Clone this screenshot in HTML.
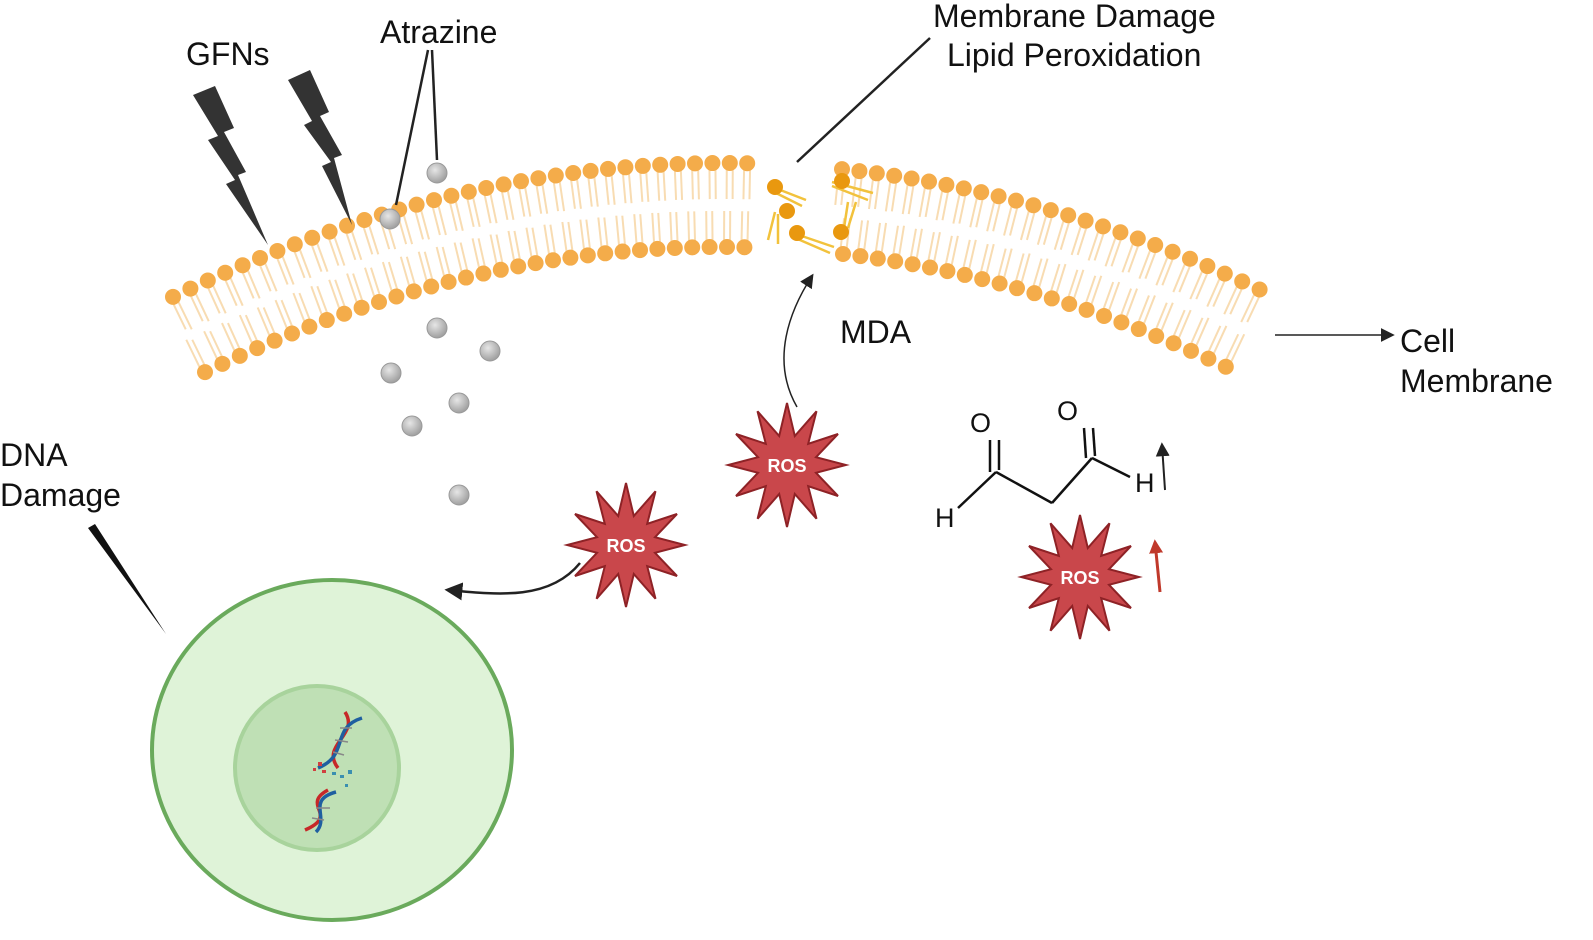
<!DOCTYPE html>
<html><head><meta charset="utf-8"><style>
html,body{margin:0;padding:0;background:#fff;}
svg{display:block;}
text{font-family:"Liberation Sans",sans-serif;}
</style></head><body>
<svg id="s" width="1593" height="940" viewBox="0 0 1593 940" xmlns="http://www.w3.org/2000/svg">
<defs>
<radialGradient id="g" cx="0.4" cy="0.35" r="0.7"><stop offset="0" stop-color="#e6e6e6"/><stop offset="1" stop-color="#9a9a9a"/></radialGradient>
<marker id="ah2" viewBox="0 0 10 10" refX="8" refY="5" markerWidth="14" markerHeight="14" markerUnits="userSpaceOnUse" orient="auto"><path d="M0,0 L10,5 L0,10 z" fill="#222"/></marker>
<marker id="ah3" viewBox="0 0 10 10" refX="8" refY="5" markerWidth="18" markerHeight="18" markerUnits="userSpaceOnUse" orient="auto"><path d="M0,0 L10,5 L0,10 z" fill="#222"/></marker>
<marker id="ahr" viewBox="0 0 10 10" refX="8" refY="5" markerWidth="14" markerHeight="14" markerUnits="userSpaceOnUse" orient="auto"><path d="M0,0 L10,5 L0,10 z" fill="#c0392b"/></marker>
</defs>
<g id="tails" stroke="#f8dcb2" stroke-width="2" fill="none"></g>
<g id="beads" fill="#f4ac4a"></g>
<g stroke="#f2c23c" stroke-width="2.5" fill="none">
<line x1="770" y1="186" x2="806" y2="200"/><line x1="770" y1="190" x2="802" y2="206"/>
<line x1="775" y1="212" x2="768" y2="240"/><line x1="778" y1="214" x2="778" y2="244"/>
<line x1="793" y1="233" x2="834" y2="247"/><line x1="793" y1="237" x2="830" y2="253"/>
<line x1="832" y1="182" x2="873" y2="193"/><line x1="832" y1="186" x2="868" y2="200"/>
<line x1="848" y1="202" x2="844" y2="228"/><line x1="856" y1="202" x2="848" y2="228"/>
</g>
<g fill="#e9980f"><circle cx="775" cy="187" r="8"/><circle cx="787" cy="211" r="8"/><circle cx="797" cy="233" r="8"/><circle cx="842" cy="181" r="8"/><circle cx="841" cy="232" r="8"/></g>
<g fill="url(#g)" stroke="#999" stroke-width="1">
<circle cx="437" cy="173" r="10"/><circle cx="390" cy="219" r="10"/><circle cx="437" cy="328" r="10"/><circle cx="490" cy="351" r="10"/><circle cx="391" cy="373" r="10"/><circle cx="459" cy="403" r="10"/><circle cx="412" cy="426" r="10"/><circle cx="459" cy="495" r="10"/>
</g>
<path d="M193,95 L215,86 L234,128 L224,132 L246,172 L238,175 L268,245 L226,184 L235,180 L208,140 L218,136 Z" fill="#333"/>
<path d="M288,80 L310,70 L329,112 L320,116 L342,155 L334,158 L352,225 L322,166 L331,162 L304,125 L312,121 Z" fill="#333"/>
<g stroke="#222" stroke-width="2.5" fill="none">
<line x1="432" y1="50" x2="437" y2="160"/><line x1="428" y1="50" x2="396" y2="205"/>
<line x1="930" y1="38" x2="797" y2="162"/>
</g>
<path d="M88,528 L95,524 L166,634 Z" fill="#111"/>
<line x1="1275" y1="335" x2="1392" y2="335" stroke="#222" stroke-width="1.5" marker-end="url(#ah2)"/>
<path d="M797,407 C770,360 790,310 812,276" stroke="#222" stroke-width="1.5" fill="none" marker-end="url(#ah2)"/>
<path d="M580,563 C550,600 500,595 448,590" stroke="#222" stroke-width="2.5" fill="none" marker-end="url(#ah3)"/>
<line x1="1165" y1="490" x2="1162" y2="445" stroke="#222" stroke-width="2" marker-end="url(#ah2)"/>
<line x1="1160" y1="592" x2="1155" y2="542" stroke="#c0392b" stroke-width="3" marker-end="url(#ahr)"/>
<g stroke="#111" stroke-width="2.5" fill="none">
<line x1="958" y1="508" x2="996" y2="472"/><line x1="996" y1="472" x2="1052" y2="503"/><line x1="1052" y1="503" x2="1092" y2="458"/><line x1="1092" y1="458" x2="1130" y2="477"/>
<line x1="990" y1="472" x2="990" y2="440"/><line x1="999" y1="470" x2="999" y2="440"/>
<line x1="1086" y1="458" x2="1084" y2="428"/><line x1="1095" y1="456" x2="1093" y2="428"/>
</g>
<g font-size="27" fill="#111"><text x="970" y="432">O</text><text x="1057" y="420">O</text><text x="935" y="527">H</text><text x="1135" y="492">H</text></g>
<ellipse cx="332" cy="750" rx="180" ry="170" fill="#dff3d8" stroke="#6aaa5c" stroke-width="4"/>
<circle cx="317" cy="768" r="82" fill="#bfe0b5" stroke="#a8d39c" stroke-width="4"/>
<g stroke-width="3.5" fill="none">
<path d="M345,712 C360,735 320,745 338,768" stroke="#c62828"/><path d="M362,718 C330,728 350,755 318,768" stroke="#1f5fa0"/>
<path d="M328,790 C300,805 340,815 305,830" stroke="#c62828"/><path d="M336,792 C306,800 330,818 316,832" stroke="#1f5fa0"/>
</g>
<g stroke="#888" stroke-width="1.5"><line x1="340" y1="728" x2="352" y2="728"/><line x1="335" y1="740" x2="348" y2="742"/><line x1="333" y1="752" x2="344" y2="755"/><line x1="316" y1="808" x2="330" y2="808"/><line x1="312" y1="818" x2="324" y2="820"/></g>
<g fill="#d04040"><rect x="318" y="762" width="4" height="4"/><rect x="322" y="770" width="4" height="3"/><rect x="313" y="768" width="3" height="3"/></g>
<g fill="#3a8fb0"><rect x="340" y="775" width="4" height="3"/><rect x="348" y="770" width="4" height="4"/><rect x="345" y="784" width="3" height="3"/><rect x="332" y="772" width="4" height="3"/></g>
<g id="stars"></g>
<g font-size="32" fill="#111">
<text x="186" y="65">GFNs</text><text x="380" y="43">Atrazine</text>
<text x="933" y="27">Membrane Damage</text><text x="947" y="66">Lipid Peroxidation</text>
<text x="840" y="343">MDA</text><text x="1400" y="352">Cell</text><text x="1400" y="392">Membrane</text>
<text x="0" y="466">DNA</text><text x="0" y="506">Damage</text>
</g>
</svg>
<script>
var NS="http://www.w3.org/2000/svg";
function el(p,t,a){var e=document.createElementNS(NS,t);for(var k in a)e.setAttribute(k,a[k]);document.getElementById(p).appendChild(e);return e;}
function row(x0,x1,cx,peak,k,up){
  for(var x=x0;x<=x1;x+=17.4){
    var y=peak+k*(x-cx)*(x-cx);
    var d=2*k*(x-cx);var n=Math.sqrt(1+d*d);var nx=-d/n,ny=1/n; if(up){nx=-nx;ny=-ny;}
    for(var o=-3;o<=3;o+=6){
      el("tails","line",{x1:x+o,y1:y,x2:x+o+nx*36,y2:y+ny*36});
    }
    el("beads","circle",{cx:x,cy:y,r:8});
  }
}
row(173,752,724,163,0.000441,false);
row(842,1275,724,163,0.000441,false);
row(205,748,721,247,0.00047,true);
row(843,1237,721,247,0.00047,true);
function star(cx,cy){
  var pts=[],n=12;
  for(var i=0;i<2*n;i++){var r=i%2?30:62;var a=i*Math.PI/n-Math.PI/2;pts.push((cx+r*Math.cos(a)*(i%2?1:0.95)).toFixed(1)+","+(cy+r*Math.sin(a)).toFixed(1));}
  el("stars","polygon",{points:pts.join(" "),fill:"#c9474b",stroke:"#8e2226","stroke-width":2});
  var t=el("stars","text",{x:cx,y:cy+7,"text-anchor":"middle","font-size":"18","font-weight":"bold",fill:"#fff"});t.textContent="ROS";
}
star(787,465);star(626,545);star(1080,577);
</script>
</body></html>
